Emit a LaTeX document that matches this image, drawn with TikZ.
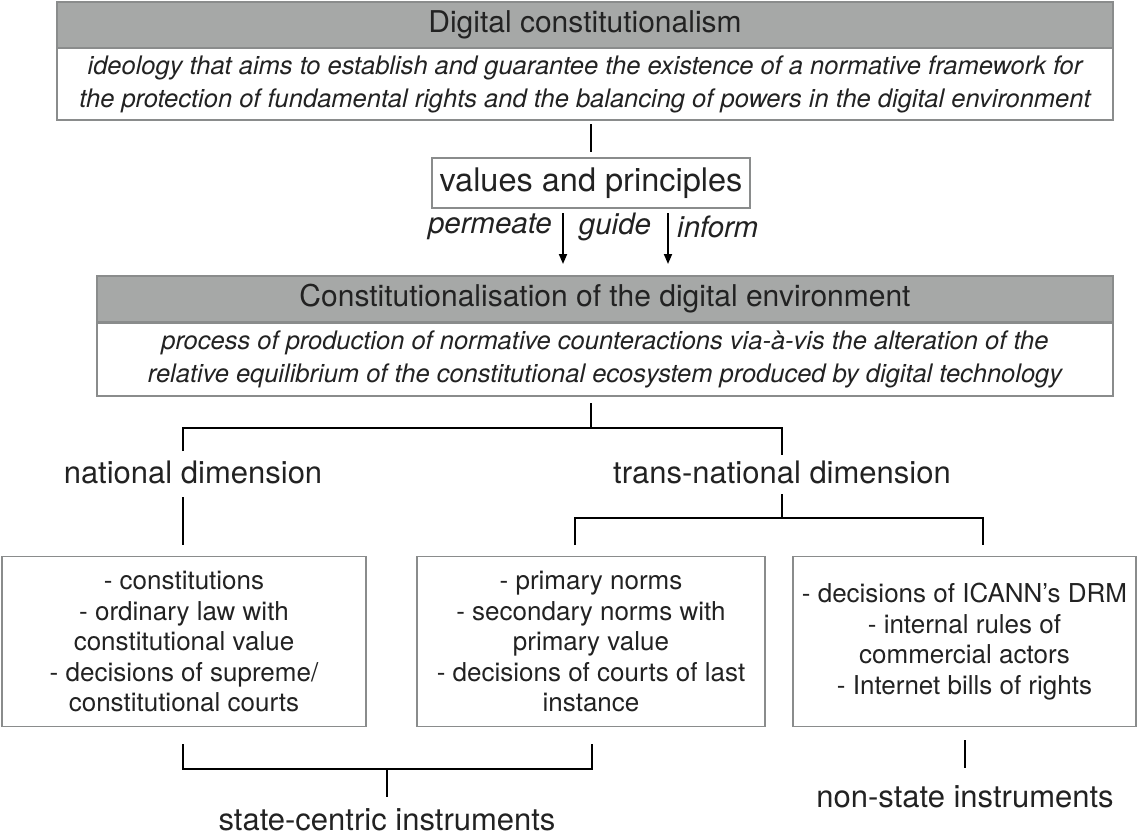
\documentclass[tikz,border=0pt]{standalone}
\usepackage{fontspec}
\setmainfont{TeX Gyre Heros}
\usetikzlibrary{arrows.meta}
\definecolor{hdrgray}{HTML}{A6A8A7}
\definecolor{bordgray}{HTML}{8A8C8C}
\definecolor{txt}{HTML}{222222}
\tikzset{
  hdr/.style={draw=bordgray, line width=1.8pt, fill=hdrgray, minimum height=46pt, inner sep=0pt, font=\fontsize{30}{34}\selectfont, text=txt},
  desc/.style={draw=bordgray, line width=1.5pt, fill=white, inner sep=0pt, font=\fontsize{25.5}{33}\selectfont\itshape, text=txt, align=center},
  ibox/.style={draw=bordgray, line width=1.5pt, inner sep=0pt, font=\fontsize{26}{30.5}\selectfont, text=txt, align=center},
  lbl/.style={inner sep=0pt, font=\fontsize{31}{34}\selectfont, text=txt},
  ilbl/.style={inner sep=0pt, font=\fontsize{29.5}{32}\selectfont\itshape, text=txt},
  conn/.style={line width=1.8pt, black},
  arr/.style={line width=1.8pt, black, -{Triangle[width=8pt,length=10pt]}}
}
\begin{document}
\begin{tikzpicture}[x=1pt,y=-1pt]
\useasboundingbox (0,0) rectangle (1137,835);
% top block
\node[hdr, minimum width=1056pt] (h1) at (585,25) {Digital constitutionalism};
\node[desc, minimum width=1056pt, minimum height=72pt] (d1) at (585,84) {ideology that aims to establish and guarantee the existence of a normative framework for\\the protection of fundamental rights and the balancing of powers in the digital environment};
% values
\coordinate (c1a) at (591,124);
\coordinate (c1b) at (591,152);
\draw[conn] (c1a) -- (c1b);
\node[draw=bordgray, line width=1.5pt, minimum width=318pt, minimum height=50pt, inner sep=0pt, font=\fontsize{32.5}{36}\selectfont, text=txt] (vp) at (591,183) {values and principles};
\coordinate (a1s) at (563,213);
\coordinate (a1e) at (563,264);
\coordinate (a2s) at (668,213);
\coordinate (a2e) at (668,264);
\draw[arr] (a1s) -- (a1e);
\draw[arr] (a2s) -- (a2e);
\node[ilbl, anchor=east] (lp) at (552,227) {permeate};
\node[ilbl] (lg) at (615,227) {guide};
\node[ilbl, anchor=west] (li) at (677,227) {inform};
% second block
\node[hdr, minimum width=1016pt] (h2) at (605,299) {Constitutionalisation of the digital environment};
\node[desc, minimum width=1016pt, minimum height=73pt] (d2) at (605,359.5) {process of production of normative counteractions via-à-vis the alteration of the\\relative equilibrium of the constitutional ecosystem produced by digital technology};
% branches
\coordinate (b0) at (591,403);
\coordinate (bm) at (591,428);
\coordinate (bl) at (183,428);
\coordinate (br) at (782,428);
\coordinate (bl2) at (183,451);
\coordinate (br2) at (782,455);
\draw[conn] (b0) -- (bm);
\draw[conn] (bl2) -- (bl) -- (br) -- (br2);
\node[lbl] (nat) at (193,472) {national dimension};
\node[lbl] (trans) at (782,472) {trans-national dimension};
% national down
\coordinate (n1) at (183,497);
\coordinate (n2) at (183,545);
\draw[conn] (n1) -- (n2);
% trans branch
\coordinate (t0) at (782,494);
\coordinate (t1) at (782,518);
\coordinate (tl) at (575,518);
\coordinate (tr) at (983,518);
\coordinate (tl2) at (575,545);
\coordinate (tr2) at (983,545);
\draw[conn] (t0) -- (t1);
\draw[conn] (tl2) -- (tl) -- (tr) -- (tr2);
% instrument boxes
\node[ibox, minimum width=364pt, minimum height=170pt] (i1) at (184,641.5) {- constitutions\\- ordinary law with\\constitutional value\\- decisions of supreme/\\constitutional courts};
\node[ibox, minimum width=348pt, minimum height=170pt] (i2) at (591,641.5) {- primary norms\\- secondary norms with\\primary value\\- decisions of courts of last\\instance};
\node[ibox, minimum width=343pt, minimum height=170pt] (i3) at (964.5,641.5) {- decisions of ICANN’s DRM\\- internal rules of\\commercial actors\\- Internet bills of rights};
% bottom brackets
\coordinate (s1) at (183,744);
\coordinate (s1b) at (183,769);
\coordinate (s2) at (592,744);
\coordinate (s2b) at (592,769);
\coordinate (sm) at (387,769);
\coordinate (sm2) at (387,797);
\draw[conn] (s1) -- (s1b) -- (s2b) -- (s2);
\draw[conn] (sm) -- (sm2);
\node[lbl] (sci) at (387,820) {state-centric instruments};
\coordinate (ns1) at (965,740);
\coordinate (ns2) at (965,768);
\draw[conn] (ns1) -- (ns2);
\node[lbl] (nsi) at (965,797) {non-state instruments};
\end{tikzpicture}
\end{document}
